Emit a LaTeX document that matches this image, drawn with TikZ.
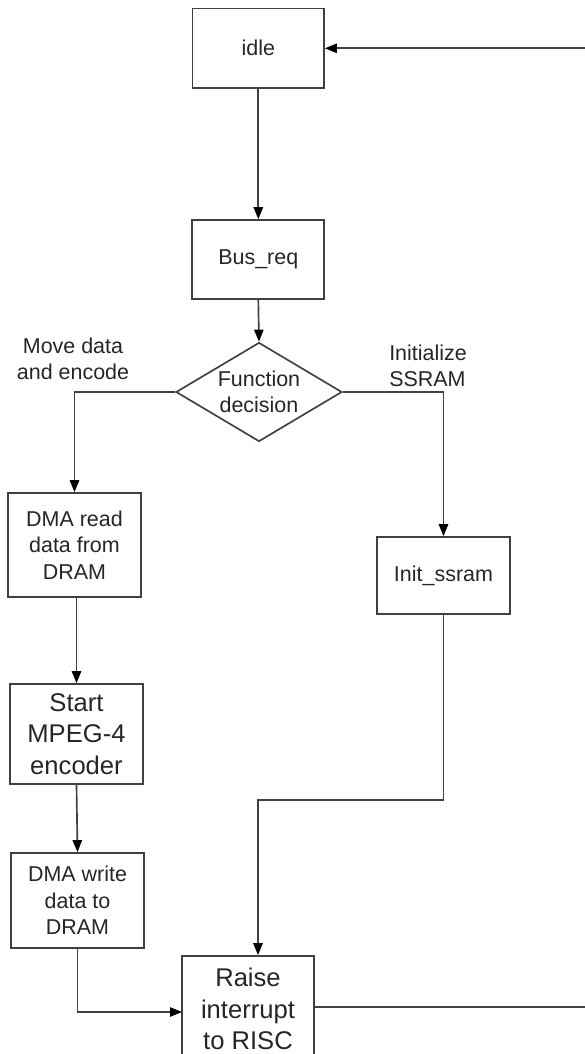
\documentclass[tikz,border=0pt]{standalone}
\usepackage{fontspec}
\setmainfont{Liberation Sans}
\usetikzlibrary{arrows.meta,shapes.geometric}

\tikzset{
  line/.style={draw=black!75, line width=1.25pt},
  flow/.style={line, -{Triangle[length=9pt,width=7pt,fill=black,color=black]}},
  stepbox/.style={line, rectangle, fill=white, align=center, inner sep=0pt,
    font=\fontsize{16.1}{19.9}\selectfont, text=black!85},
  bigbox/.style={stepbox, font=\fontsize{19.2}{23.6}\selectfont},
  choice/.style={line, diamond, fill=white, align=center, inner sep=0pt,
    shape aspect=1.68, minimum width=124.5pt, minimum height=74.25pt,
    font=\fontsize{16.1}{19.9}\selectfont, text=black!85},
  branch/.style={inner sep=0pt, font=\fontsize{16.1}{19.9}\selectfont, text=black!85}
}

\begin{document}
\begin{tikzpicture}[x=0.75pt, y=-0.75pt]
  \useasboundingbox[fill=white] (0,0) rectangle (585,1054);

  % states
  \node[stepbox, minimum width=98.6pt, minimum height=59.6pt] (idle) at (258.3,48.3) {idle};
  \node[stepbox, minimum width=99pt, minimum height=59.25pt] (bus) at (258.3,259.5) {Bus\_req};
  \node[choice] (dec) at (259,392) {Function\\decision};
  \node[stepbox, minimum width=99.75pt, minimum height=78pt] (dmar) at (74.5,545) {DMA read\\data from\\DRAM};
  \node[bigbox, minimum width=99.75pt, minimum height=75pt] (start) at (76.5,734) {Start\\MPEG-4\\encoder};
  \node[stepbox, minimum width=99.75pt, minimum height=71.25pt] (dmaw) at (77.5,900.5) {DMA write\\data to\\DRAM};
  \node[stepbox, minimum width=99.75pt, minimum height=57.75pt] (init) at (443.5,575.5) {Init\_ssram};
  \node[bigbox, minimum width=99pt, minimum height=79.5pt] (raise) at (248,1009) {Raise\\interrupt\\to RISC};

  % branch labels
  \node[branch, align=center] (lmove) at (73,359) {Move data\\and encode};
  \node[branch, align=left, anchor=west] (linit) at (389,366) {Initialize\\SSRAM};

  % free ends and bends
  \coordinate (ret) at (585,48.3);
  \coordinate (out) at (585,1007);
  \coordinate (bend) at (258,800);
  \coordinate (inl) at (182,1012);

  % connectors
  \draw[flow] (ret) -- (idle.east);
  \draw[flow] (idle.south) -- (bus.north);
  \draw[flow] (bus.south) -- (dec.north);
  \draw[flow] (dec.west) -| (dmar.north);
  \draw[flow] (dec.east) -| (init.north);
  \draw[flow] (start.north |- dmar.south) -- (start.north);
  \draw[flow] (start.south) -- (dmaw.north);
  \draw[flow] (dmaw.south) |- (inl);
  \draw[flow] (init.south) |- (bend) -- (bend |- raise.north);
  \draw[line] (raise.east |- out) -- (out);
\end{tikzpicture}
\end{document}
